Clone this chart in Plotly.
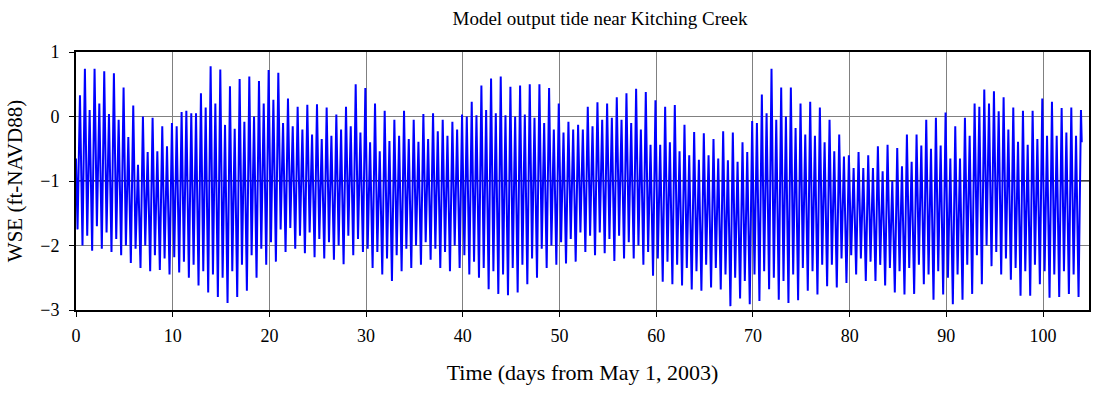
import plotly.graph_objects as go

# Tidal extremes per day (ft NAVD88), day k = 0..103
higher_high = [
    0.74, 0.74, 0.70, 0.67, 0.45, 0.17, 0.00, -0.02, -0.15, -0.10,
    0.07, 0.05, 0.36, 0.78, 0.73, 0.47, 0.58, 0.62, 0.55, 0.72,
    0.68, 0.28, 0.15, 0.18, 0.19, 0.14, 0.03, 0.15, 0.50, 0.44,
    0.20, 0.09, -0.05, 0.09, -0.05, 0.04, 0.05, -0.05, -0.08, 0.03,
    0.23, 0.48, 0.59, 0.62, 0.46, 0.48, 0.50, 0.50, 0.44, 0.20,
    -0.08, -0.13, 0.15, 0.22, 0.20, 0.30, 0.36, 0.43, 0.38, 0.25,
    0.15, 0.18, -0.13, -0.24, -0.26, -0.35, -0.23, -0.25, -0.40, -0.07,
    0.34, 0.74, 0.45, 0.45, 0.20, 0.23, 0.14, -0.05, -0.28, -0.60,
    -0.55, -0.60, -0.46, -0.44, -0.49, -0.28, -0.28, -0.05, -0.02, 0.06,
    -0.15, -0.02, 0.20, 0.42, 0.39, 0.30, 0.14, 0.09, 0.09, 0.28,
    0.23, 0.13, 0.14, 0.10,
]
lower_high = [
    0.33, 0.10, 0.20, 0.04, -0.05, -0.32, -0.75, -0.55, -0.54, -0.46,
    -0.15, 0.09, 0.05, 0.14, 0.20, -0.13, -0.19, -0.08, 0.00, 0.20,
    0.26, -0.10, -0.15, -0.20, -0.28, -0.35, -0.30, -0.20, -0.15, -0.25,
    -0.40, -0.54, -0.38, -0.30, -0.35, -0.39, -0.35, -0.23, -0.30, -0.20,
    0.00, 0.02, 0.10, 0.05, 0.02, 0.00, 0.03, -0.02, -0.10, -0.20,
    -0.25, -0.20, -0.20, -0.15, -0.05, -0.02, -0.05, -0.10, -0.20, -0.44,
    -0.44, -0.40, -0.54, -0.60, -0.67, -0.60, -0.65, -0.68, -0.70, -0.55,
    -0.10, 0.05, -0.05, 0.00, -0.18, -0.28, -0.30, -0.40, -0.54, -0.62,
    -0.80, -0.80, -0.80, -0.85, -1.00, -0.77, -0.70, -0.45, -0.50, -0.45,
    -0.65, -0.65, -0.30, 0.15, 0.20, 0.08, -0.20, -0.39, -0.44, -0.35,
    -0.30, -0.30, -0.25, -0.30,
]
higher_low = [
    -1.75, -1.85, -1.70, -1.80, -1.90, -2.00, -2.05, -2.00, -2.15, -2.20,
    -2.18, -2.25, -2.30, -2.40, -2.45, -2.50, -2.40, -2.30, -2.15, -2.05,
    -1.95, -1.75, -1.73, -1.85, -1.80, -1.90, -1.95, -2.00, -1.85, -1.90,
    -2.05, -2.10, -2.20, -2.15, -2.05, -2.00, -1.95, -2.05, -2.10, -2.00,
    -2.15, -2.25, -2.35, -2.40, -2.45, -2.35, -2.30, -2.20, -2.05, -2.00,
    -1.95, -1.90, -1.80, -1.85, -1.80, -1.90, -1.85, -1.95, -2.00, -2.10,
    -2.20, -2.25, -2.30, -2.35, -2.40, -2.30, -2.35, -2.45, -2.50, -2.55,
    -2.45, -2.40, -2.50, -2.55, -2.45, -2.35, -2.40, -2.30, -2.30, -2.20,
    -2.15, -2.20, -2.25, -2.30, -2.35, -2.40, -2.35, -2.30, -2.45, -2.40,
    -2.50, -2.45, -2.30, -2.15, -2.00, -2.10, -2.20, -2.35, -2.40, -2.30,
    -2.40, -2.45, -2.40, -2.45,
]
lower_low = [
    -2.00, -2.08, -2.05, -2.10, -2.15, -2.27, -2.35, -2.40, -2.38, -2.45,
    -2.42, -2.50, -2.62, -2.73, -2.80, -2.89, -2.80, -2.70, -2.50, -2.30,
    -2.25, -2.10, -2.05, -2.12, -2.18, -2.20, -2.22, -2.29, -2.15, -2.10,
    -2.35, -2.45, -2.55, -2.40, -2.35, -2.30, -2.22, -2.35, -2.40, -2.35,
    -2.45, -2.50, -2.68, -2.75, -2.77, -2.73, -2.60, -2.50, -2.35, -2.30,
    -2.28, -2.25, -2.10, -2.15, -2.12, -2.24, -2.20, -2.20, -2.30, -2.47,
    -2.56, -2.60, -2.62, -2.68, -2.70, -2.65, -2.68, -2.94, -2.82, -2.91,
    -2.86, -2.68, -2.84, -2.89, -2.85, -2.70, -2.76, -2.63, -2.65, -2.58,
    -2.45, -2.55, -2.55, -2.62, -2.73, -2.76, -2.75, -2.60, -2.84, -2.76,
    -2.91, -2.84, -2.75, -2.60, -2.32, -2.45, -2.53, -2.78, -2.78, -2.60,
    -2.81, -2.80, -2.75, -2.80,
]
start_level = -0.65   # water level at day 0
end_level = -0.40     # water level at day 104

# Order of the extremes within each day and their time offsets (days)
phase = [("HL", 0.16), ("LH", 0.41), ("LL", 0.67), ("HH", 0.92)]
series = {"HH": higher_high, "LH": lower_high, "HL": higher_low, "LL": lower_low}

t, wse = [0.0], [start_level]
for k in range(len(higher_high)):
    for key, off in phase:
        t.append(k + off)
        wse.append(series[key][k])
t.append(104.0)
wse.append(end_level)

serif = "Liberation Serif, Times New Roman, serif"

fig = go.Figure(go.Scatter(
    x=t, y=wse, mode="lines",
    line=dict(color="#0000FF", width=2),
    showlegend=False, hoverinfo="skip",
))

fig.update_layout(
    width=1094, height=395,
    margin=dict(l=76, r=3, t=52, b=85),
    paper_bgcolor="white", plot_bgcolor="white",
    font=dict(family=serif, size=18, color="black"),
    title=dict(text="Model output tide near Kitching Creek",
               x=600 / 1094, xref="container", xanchor="center",
               y=1 - 18 / 395, yref="container", yanchor="middle",
               font=dict(family=serif, size=19, color="black")),
    shapes=[dict(type="line", xref="paper", x0=0, x1=1, yref="y", y0=-1, y1=-1,
                 line=dict(color="black", width=1.5), layer="below")],
)
fig.update_xaxes(
    range=[0, 104.75], tick0=0, dtick=10,
    showgrid=True, gridcolor="#808080", gridwidth=1,
    showline=True, linecolor="black", linewidth=2, mirror=True,
    ticks="outside", ticklen=5, tickcolor="black", tickwidth=1,
    ticklabelstandoff=3,
    zeroline=False,
    title=dict(text="Time (days from May 1, 2003)", standoff=20,
               font=dict(family=serif, size=22)),
)
fig.update_yaxes(
    range=[-3, 1], tick0=-3, dtick=1,
    showgrid=True, gridcolor="#808080", gridwidth=1,
    showline=True, linecolor="black", linewidth=2, mirror=True,
    ticks="outside", ticklen=5, tickcolor="black", tickwidth=1,
    ticklabelstandoff=6,
    zeroline=False,
    title=dict(text="WSE (ft-NAVD88)", standoff=12,
               font=dict(family=serif, size=21)),
)

fig.write_html("out.html")
